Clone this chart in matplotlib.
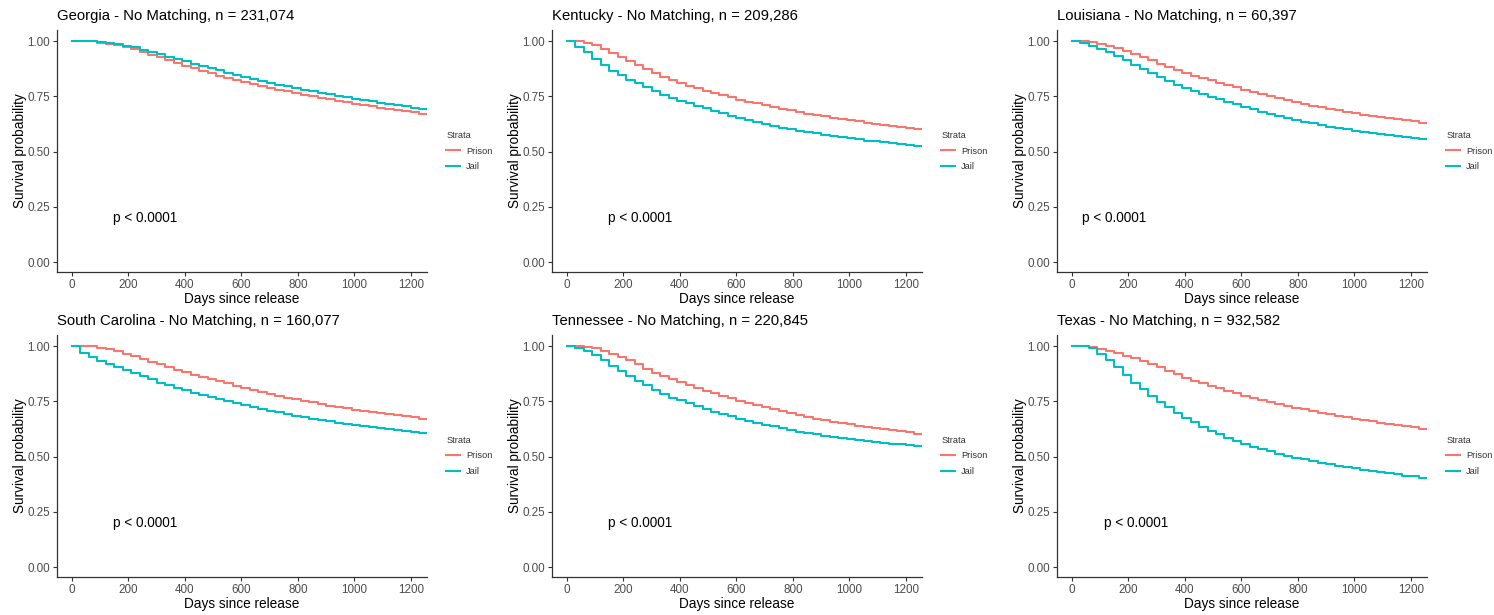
import numpy as np
import matplotlib.pyplot as plt
from matplotlib.ticker import FormatStrFormatter

plt.rcParams['font.family'] = ['Liberation Sans', 'DejaVu Sans']

# time grid: survival (30 days)
days = np.arange(0, 1261, 30)

georgia_prison = [1.000, 1.000, 0.998, 0.993, 0.987, 0.980, 0.972, 0.963, 0.951, 0.938, 0.926, 0.913, 0.900, 0.888,
                  0.876, 0.865, 0.854, 0.843, 0.833, 0.823, 0.813, 0.804, 0.796, 0.788, 0.780, 0.772, 0.765, 0.758,
                  0.750, 0.743, 0.736, 0.729, 0.722, 0.716, 0.710, 0.704, 0.698, 0.692, 0.687, 0.682, 0.677, 0.672, 0.666]
georgia_jail = [1.000, 1.000, 0.999, 0.996, 0.991, 0.985, 0.979, 0.971, 0.960, 0.950, 0.940, 0.929, 0.918, 0.908,
                0.898, 0.887, 0.877, 0.867, 0.857, 0.847, 0.838, 0.829, 0.820, 0.811, 0.803, 0.795, 0.787, 0.780,
                0.773, 0.766, 0.759, 0.752, 0.745, 0.739, 0.733, 0.727, 0.721, 0.715, 0.710, 0.705, 0.699, 0.693, 0.687]

kentucky_prison = [1.000, 1.000, 0.993, 0.980, 0.963, 0.946, 0.927, 0.908, 0.890, 0.872, 0.855, 0.839, 0.824, 0.811,
                   0.798, 0.786, 0.775, 0.764, 0.754, 0.745, 0.735, 0.726, 0.718, 0.710, 0.702, 0.694, 0.686, 0.679,
                   0.672, 0.666, 0.660, 0.654, 0.648, 0.642, 0.636, 0.631, 0.626, 0.621, 0.617, 0.612, 0.608, 0.604, 0.600]
kentucky_jail = [1.000, 0.975, 0.950, 0.920, 0.892, 0.866, 0.845, 0.826, 0.808, 0.790, 0.773, 0.757, 0.743, 0.731,
                 0.719, 0.707, 0.695, 0.684, 0.673, 0.662, 0.651, 0.641, 0.632, 0.623, 0.615, 0.607, 0.600, 0.594,
                 0.588, 0.582, 0.576, 0.570, 0.565, 0.560, 0.555, 0.550, 0.546, 0.542, 0.538, 0.534, 0.530, 0.526, 0.521]

louisiana_prison = [1.000, 1.000, 0.995, 0.988, 0.978, 0.967, 0.953, 0.940, 0.926, 0.912, 0.898, 0.884, 0.870, 0.855,
                    0.843, 0.832, 0.822, 0.812, 0.801, 0.790, 0.779, 0.769, 0.759, 0.750, 0.741, 0.732, 0.723, 0.714,
                    0.707, 0.700, 0.693, 0.687, 0.680, 0.673, 0.667, 0.661, 0.656, 0.651, 0.646, 0.641, 0.637, 0.631, 0.623]
louisiana_jail = [1.000, 0.990, 0.978, 0.964, 0.950, 0.933, 0.913, 0.892, 0.873, 0.855, 0.838, 0.820, 0.803, 0.789,
                  0.775, 0.762, 0.749, 0.737, 0.726, 0.714, 0.702, 0.692, 0.681, 0.670, 0.661, 0.652, 0.643, 0.634,
                  0.627, 0.620, 0.613, 0.607, 0.601, 0.595, 0.590, 0.585, 0.580, 0.575, 0.570, 0.566, 0.562, 0.556, 0.548]

sc_prison = [1.000, 1.000, 0.998, 0.993, 0.986, 0.977, 0.966, 0.954, 0.942, 0.929, 0.917, 0.905, 0.893, 0.882,
             0.871, 0.861, 0.851, 0.841, 0.831, 0.821, 0.811, 0.802, 0.793, 0.784, 0.775, 0.767, 0.759, 0.752,
             0.745, 0.738, 0.731, 0.724, 0.718, 0.712, 0.706, 0.701, 0.696, 0.691, 0.687, 0.682, 0.678, 0.672, 0.666]
sc_jail = [1.000, 0.970, 0.950, 0.933, 0.917, 0.903, 0.891, 0.879, 0.865, 0.849, 0.835, 0.823, 0.812, 0.800,
           0.789, 0.779, 0.769, 0.760, 0.751, 0.742, 0.733, 0.724, 0.715, 0.707, 0.700, 0.692, 0.685, 0.678,
           0.672, 0.666, 0.660, 0.654, 0.649, 0.644, 0.639, 0.634, 0.629, 0.624, 0.620, 0.616, 0.612, 0.606, 0.599]

tennessee_prison = [1.000, 1.000, 0.997, 0.990, 0.979, 0.966, 0.952, 0.935, 0.917, 0.898, 0.880, 0.866, 0.852, 0.838,
                    0.824, 0.810, 0.797, 0.786, 0.775, 0.763, 0.752, 0.742, 0.732, 0.722, 0.713, 0.704, 0.695, 0.686,
                    0.679, 0.672, 0.665, 0.658, 0.652, 0.646, 0.640, 0.634, 0.629, 0.624, 0.619, 0.615, 0.611, 0.604, 0.596]
tennessee_jail = [1.000, 0.993, 0.977, 0.958, 0.935, 0.911, 0.888, 0.866, 0.843, 0.822, 0.801, 0.783, 0.767, 0.754,
                  0.741, 0.727, 0.714, 0.703, 0.692, 0.682, 0.672, 0.663, 0.654, 0.645, 0.637, 0.629, 0.621, 0.613,
                  0.606, 0.600, 0.594, 0.589, 0.584, 0.580, 0.576, 0.571, 0.567, 0.563, 0.559, 0.555, 0.551, 0.546, 0.539]

texas_prison = [1.000, 1.000, 0.996, 0.988, 0.978, 0.968, 0.957, 0.945, 0.932, 0.918, 0.903, 0.888, 0.873, 0.857,
                0.844, 0.832, 0.820, 0.809, 0.798, 0.787, 0.776, 0.766, 0.757, 0.748, 0.739, 0.730, 0.721, 0.713,
                0.705, 0.698, 0.691, 0.684, 0.677, 0.672, 0.666, 0.660, 0.654, 0.649, 0.643, 0.638, 0.632, 0.626, 0.620]
texas_jail = [1.000, 1.000, 0.990, 0.963, 0.935, 0.905, 0.868, 0.835, 0.805, 0.775, 0.748, 0.722, 0.698, 0.675,
              0.655, 0.635, 0.616, 0.600, 0.585, 0.570, 0.556, 0.545, 0.534, 0.523, 0.513, 0.504, 0.495, 0.487,
              0.479, 0.472, 0.465, 0.459, 0.453, 0.446, 0.440, 0.434, 0.429, 0.424, 0.419, 0.414, 0.410, 0.405, 0.398]

titles = ["Georgia - No Matching, n = 231,074", "Kentucky - No Matching, n = 209,286",
          "Louisiana - No Matching, n = 60,397", "South Carolina - No Matching, n = 160,077",
          "Tennessee - No Matching, n = 220,845", "Texas - No Matching, n = 932,582"]
prison = [georgia_prison, kentucky_prison, louisiana_prison, sc_prison, tennessee_prison, texas_prison]
jail = [georgia_jail, kentucky_jail, louisiana_jail, sc_jail, tennessee_jail, texas_jail]
pval_x = [145, 145, 35, 145, 145, 112]  # where the "p < 0.0001" label starts (days)

red = '#F8766D'
cyan = '#00BFC4'

fig = plt.figure(figsize=(14.94, 6.15), dpi=100)

lefts = [57 / 1494, 552 / 1494, 1057 / 1494]
bottoms = [1 - 272 / 615, 1 - 577 / 615]
w, h = 370 / 1494, 242 / 615

for i in range(6):
    ax = fig.add_axes([lefts[i % 3], bottoms[i // 3], w, h])
    ax.step(days, prison[i], where='post', color=red, lw=1.5, label='Prison')
    ax.step(days, jail[i], where='post', color=cyan, lw=1.5, label='Jail')
    ax.set_xlim(-53, 1257)
    ax.set_ylim(-0.045, 1.05)
    ax.set_xticks(range(0, 1201, 200))
    ax.set_yticks([0, 0.25, 0.5, 0.75, 1.0])
    ax.yaxis.set_major_formatter(FormatStrFormatter('%.2f'))
    for s in ['top', 'right']:
        ax.spines[s].set_visible(False)
    for s in ['left', 'bottom']:
        ax.spines[s].set_color('#333333')
        ax.spines[s].set_linewidth(0.9)
    ax.tick_params(length=3, width=0.8, color='#333333', labelsize=8.4, labelcolor='#4D4D4D', pad=2)
    ax.set_xlabel('Days since release', fontsize=9.8, labelpad=0.5)
    ax.set_ylabel('Survival probability', fontsize=9.8, labelpad=0)
    ax.set_title(titles[i], loc='left', fontsize=10.7, pad=7)
    ax.text(pval_x[i], 0.2, 'p < 0.0001', fontsize=9.8, va='center', ha='left')
    leg = ax.legend(title='Strata', loc='center left', bbox_to_anchor=(1.04, 0.5), frameon=False,
                    fontsize=6.7, title_fontsize=6.7, handlelength=1.5, handletextpad=0.6,
                    labelspacing=0.7, borderpad=0, alignment='left')
    for t in leg.get_texts():
        t.set_color('#333333')
    leg.get_title().set_color('#333333')

fig.savefig('out.png', dpi=100)
